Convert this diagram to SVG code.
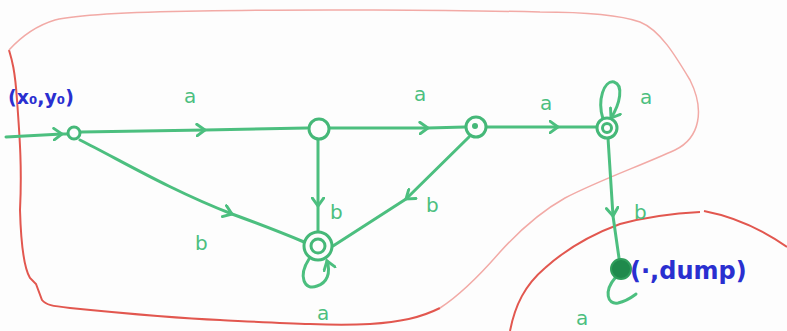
<svg xmlns="http://www.w3.org/2000/svg" width="787" height="331" viewBox="0 0 787 331">
<style>
.edge{fill:none;stroke:#4cbf7f;stroke-width:3;stroke-linecap:round;stroke-linejoin:round}
.node{fill:#fdfdfd;stroke:#45b878;stroke-width:3}
.lbl{font-family:"DejaVu Sans",sans-serif;fill:#4cbf7f;font-size:20px}
.blue{font-family:"DejaVu Sans",sans-serif;fill:#2a2fd0;font-weight:bold}
.red{fill:none;stroke:#e2574f;stroke-width:2}
.redf{fill:none;stroke:#f2aaa6;stroke-width:1.5}
</style>
<defs>
<marker id="chev" viewBox="0 0 10 12" refX="8" refY="6" markerWidth="12" markerHeight="14" markerUnits="userSpaceOnUse" orient="auto">
<path d="M1,1 L8,6 L1,11" fill="none" stroke="#4cbf7f" stroke-width="2.5" stroke-linecap="round"/>
</marker>
</defs>
<rect width="787" height="331" fill="#fdfdfd"/>
<g id="outline">
<path class="red" d="M9,50 C12,60 15,70 17,100 C20,140 22,170 20,210 C21,245 24,268 30,278 L36,284 L42,300 C46,305 52,306 70,308 C120,313 170,318 220,320 C280,323 330,326 370,324 C400,322 420,318 440,308"/>
<path class="redf" d="M440,308 C460,295 480,275 500,252 C520,230 540,212 565,198 C600,180 640,166 675,150 C700,138 705,110 690,80 C675,55 660,30 640,22 C620,15 580,12 540,12 C450,10 300,9 200,11 C130,12 80,14 55,20 C35,26 20,38 9,50"/>
<path class="red" d="M510,331 C515,305 525,285 545,268 C565,250 590,235 620,224 C650,216 680,213 700,212"/>
<path class="red" d="M704,211 C730,216 760,228 787,247"/>
</g>
<g id="edges">
<path class="edge" d="M6,137 L62,134 L68,134" marker-mid="url(#chev)"/>
<path class="edge" d="M81,132 L205,130 L307,128" marker-mid="url(#chev)"/>
<path class="edge" d="M330,128 L428,128 L465,127" marker-mid="url(#chev)"/>
<path class="edge" d="M486,127 L558,127 L597,127" marker-mid="url(#chev)"/>
<path class="edge" d="M80,140 C120,160 170,190 232,214 C262,225 285,234 304,242" marker-mid="url(#chev)"/>
<path class="edge" d="M318,140 L318,206 L318,231" marker-mid="url(#chev)"/>
<path class="edge" d="M469,137 L406,199 L333,246" marker-mid="url(#chev)"/>
<path class="edge" d="M608,138 L613,216 L619,258" marker-mid="url(#chev)"/>
<path class="edge" d="M309,259 C298,276 304,291 317,286 C327,283 331,273 327,261" marker-end="url(#chev)"/>
<path class="edge" d="M603,119 C597,100 604,80 614,82 C624,85 620,104 611,118" marker-end="url(#chev)"/>
<path class="edge" d="M615,278 C604,291 607,305 618,303 C627,301 632,297 636,294"/>
</g>
<g id="q0"><circle class="node" cx="74" cy="133" r="6"/></g>
<g id="q1"><circle class="node" cx="319" cy="129" r="10"/></g>
<g id="q2"><circle class="node" cx="476" cy="127" r="10"/><circle cx="475" cy="126" r="3" fill="#45b878"/></g>
<g id="q3"><circle class="node" cx="607" cy="128" r="10"/><circle class="node" cx="607" cy="128" r="4.5" stroke-width="2.5"/></g>
<g id="q4"><circle class="node" cx="318" cy="246" r="14"/><circle class="node" cx="318" cy="246" r="7"/></g>
<g id="dump"><circle cx="621" cy="269" r="10" fill="#1f8a4c" stroke="#2f9e5c" stroke-width="2"/></g>
<g id="labels">
<text class="lbl" x="184" y="103">a</text>
<text class="lbl" x="414" y="101">a</text>
<text class="lbl" x="540" y="110" font-size="30">a</text>
<text class="lbl" x="640" y="104" font-size="16">a</text>
<text class="lbl" x="195" y="250" font-size="24">b</text>
<text class="lbl" x="330" y="219">b</text>
<text class="lbl" x="426" y="212">b</text>
<text class="lbl" x="634" y="219">b</text>
<text class="lbl" x="317" y="320" font-size="18">a</text>
<text class="lbl" x="576" y="325" font-size="18">a</text>
<text class="blue" x="8" y="104" font-size="19">(x₀,y₀)</text>
<text class="blue" x="630" y="279" font-size="24">(·,dump)</text>
</g>
</svg>
